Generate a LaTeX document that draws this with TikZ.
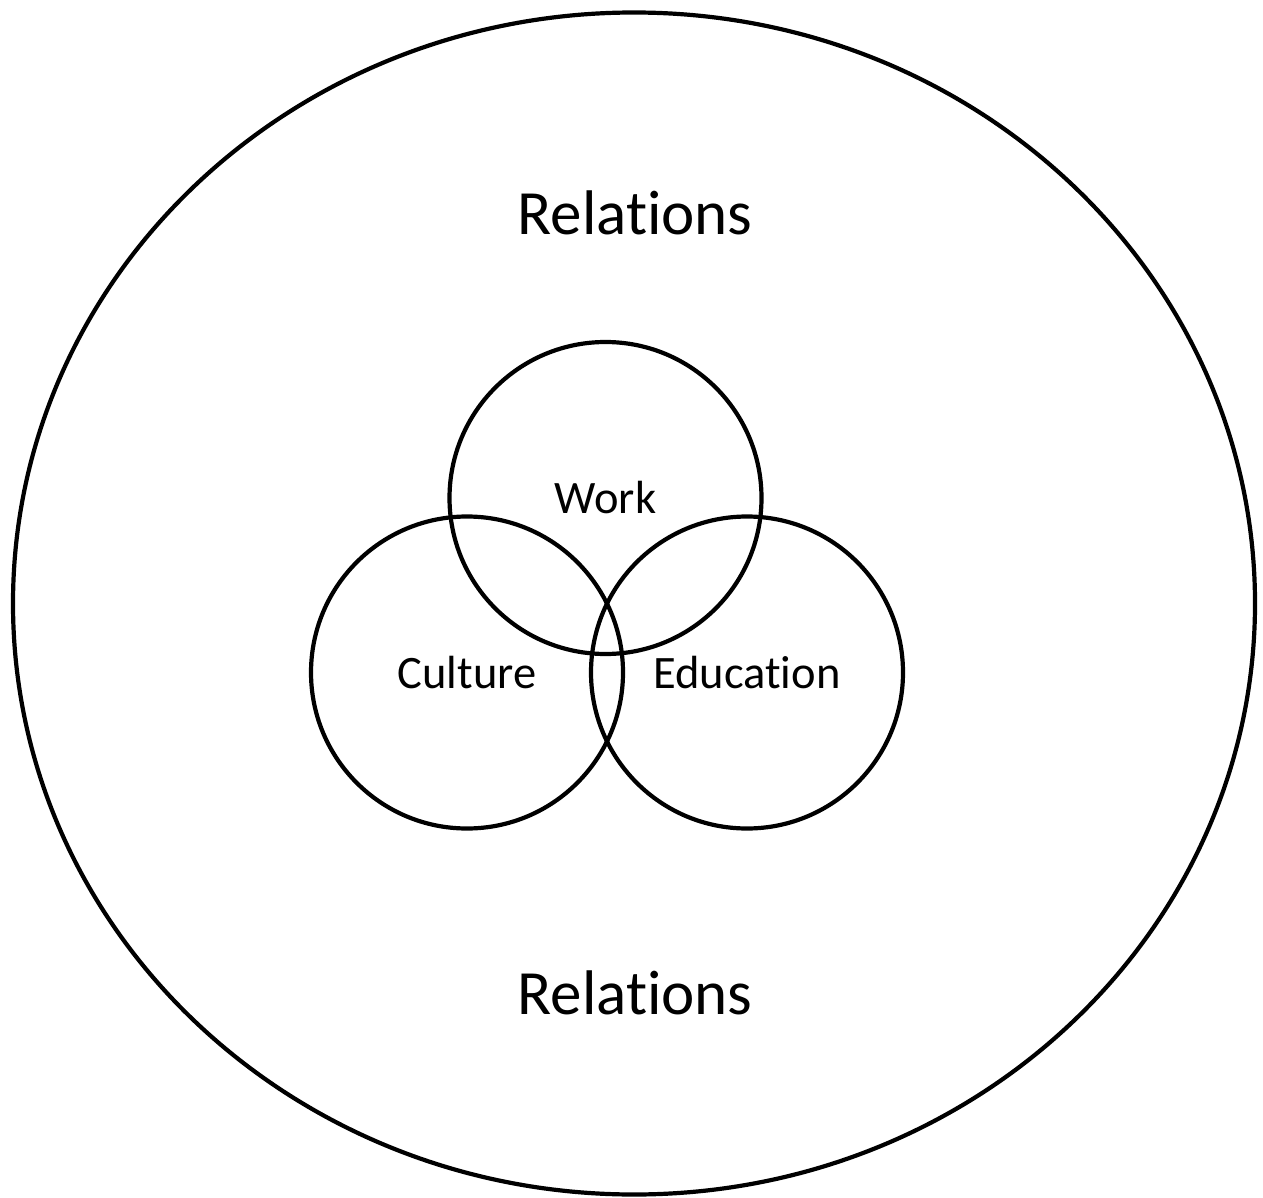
\documentclass[tikz,border=0pt]{standalone}
\usepackage{fontspec}
\setmainfont[Ligatures=NoCommon]{Carlito}
\begin{document}
\begin{tikzpicture}[x=1pt,y=-1pt,
  ring/.style={draw=black,line width=4.2pt,circle,inner sep=0pt,minimum size=312pt,
    font=\fontsize{46.5}{50}\selectfont},
  bigtext/.style={font=\fontsize{63}{66}\selectfont,inner sep=0pt}]
\useasboundingbox (0,0) rectangle (1263,1198);
\draw[line width=4.2pt] (634,603.5) ellipse [x radius=621pt, y radius=591pt];
\node[ring] (work) at (605.5,498) {Work};
\node[ring] (culture) at (467,672.5) {Culture};
\node[ring] (education) at (747,672.5) {Education};
\node[bigtext] (rtop) at (635,213) {Relations};
\node[bigtext] (rbot) at (635,993) {Relations};
\end{tikzpicture}
\end{document}
